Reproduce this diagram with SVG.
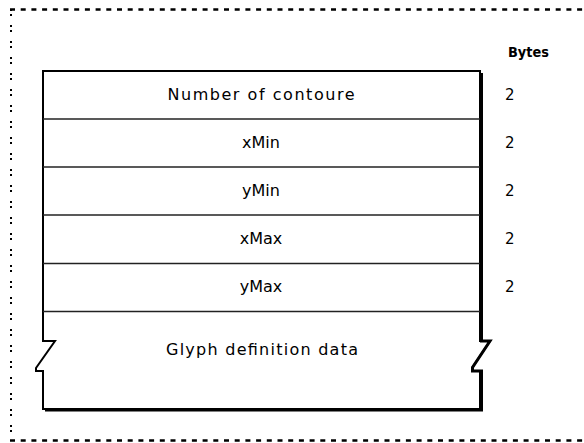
<svg xmlns="http://www.w3.org/2000/svg" width="584" height="443" viewBox="0 0 584 443">
<style>
.lbl{font-family:"DejaVu Sans","Liberation Sans",Arial,sans-serif;font-size:16px;fill:#000;text-anchor:middle}
.num{font-family:"DejaVu Sans","Liberation Sans",Arial,sans-serif;font-size:15px;fill:#000}
.hdr{font-family:"DejaVu Sans","Liberation Sans",Arial,sans-serif;font-size:14.5px;font-weight:bold;fill:#000}
.div{stroke:#222;stroke-width:1.5;fill:none}
.frame{stroke:#000;fill:none}
</style>
<rect width="584" height="443" fill="#fff"/>
<g id="frame-border">
<line class="frame" x1="10" y1="9.5" x2="584" y2="9.5" stroke-width="2.5" stroke-dasharray="5 5.7"/>
<line class="frame" x1="10" y1="440.5" x2="584" y2="440.5" stroke-width="2.5" stroke-dasharray="5 5.7"/>
<line class="frame" x1="11" y1="9" x2="11" y2="440" stroke-width="2" stroke-dasharray="2 3 2 9"/>
</g>
<g id="glyph-table">
<path d="M43,71 H480 V341 H490 L472,368 V371 H480 V409 H43 V371 H36 V368 L55,341 H43 Z" fill="#fff" stroke="#000" stroke-width="2"/>
<path d="M481.5,73 V341 H490 L472.5,367.5 V371 H481.5 V410 H45" fill="none" stroke="#000" stroke-width="3"/>
</g>
<g id="connectors">
<line class="div" x1="43" y1="119" x2="480" y2="119"/>
<line class="div" x1="43" y1="167" x2="480" y2="167"/>
<line class="div" x1="43" y1="215" x2="480" y2="215"/>
<line class="div" x1="43" y1="263.5" x2="480" y2="263.5"/>
<line class="div" x1="43" y1="311.5" x2="480" y2="311.5"/>
</g>
<g id="row-contours"><text class="lbl" x="261" y="100" textLength="187" lengthAdjust="spacing">Number of contoure</text><text class="num" x="505" y="100">2</text></g>
<g id="row-xmin"><text class="lbl" x="261" y="148">xMin</text><text class="num" x="505" y="148">2</text></g>
<g id="row-ymin"><text class="lbl" x="261" y="196">yMin</text><text class="num" x="505" y="196">2</text></g>
<g id="row-xmax"><text class="lbl" x="261" y="244">xMax</text><text class="num" x="505" y="244">2</text></g>
<g id="row-ymax"><text class="lbl" x="261" y="292">yMax</text><text class="num" x="505" y="292">2</text></g>
<g id="row-glyph"><text class="lbl" x="262" y="355" textLength="192" lengthAdjust="spacing">Glyph definition data</text></g>
<g id="bytes-header"><text class="hdr" x="508" y="57" textLength="41" lengthAdjust="spacingAndGlyphs">Bytes</text></g>
</svg>
